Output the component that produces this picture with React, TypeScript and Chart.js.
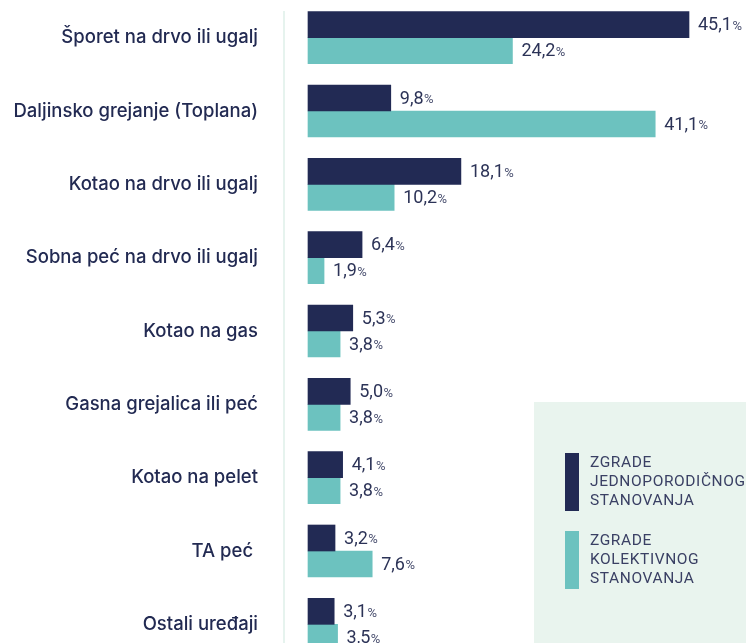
import React, { useEffect, useRef } from "react";
import { Chart, registerables } from "chart.js";

Chart.register(...registerables);

const categories = [
  "Šporet na drvo ili ugalj",
  "Daljinsko grejanje (Toplana)",
  "Kotao na drvo ili ugalj",
  "Sobna peć na drvo ili ugalj",
  "Kotao na gas",
  "Gasna grejalica ili peć",
  "Kotao na pelet",
  "TA peć ",
  "Ostali uređaji",
];

const singleFamily = [45.1, 9.8, 18.1, 6.4, 5.3, 5.0, 4.1, 3.2, 3.1];
const multiFamily = [24.2, 41.1, 10.2, 1.9, 3.8, 3.8, 3.8, 7.6, 3.5];

const seriesNames = [
  ["ZGRADE", "JEDNOPORODIČNOG", "STANOVANJA"],
  ["ZGRADE", "KOLEKTIVNOG", "STANOVANJA"],
];

const DARK = "#222a54";
const TEAL = "#6cc2bf";
const TEXT = "#222a52";

const fmt = (v: number) => v.toFixed(1).replace(".", ",");

const valueLabels = {
  id: "valueLabels",
  afterDatasetsDraw(chart: any) {
    const ctx = chart.ctx;
    ctx.save();
    ctx.textBaseline = "middle";
    ctx.textAlign = "left";
    chart.data.datasets.forEach((ds: any, di: number) => {
      const meta = chart.getDatasetMeta(di);
      meta.data.forEach((bar: any, i: number) => {
        const txt = fmt(ds.data[i]);
        const x = bar.x + 9;
        const y = bar.y + 1;
        ctx.font = "18px 'Roboto'";
        ctx.fillStyle = "#2c3357";
        ctx.fillText(txt, x, y);
        const w = ctx.measureText(txt).width;
        ctx.font = "13px 'Roboto'";
        ctx.fillStyle = "#4a5070";
        ctx.fillText("%", x + w + 0.5, y + 1);
      });
    });
    ctx.restore();
  },
};

const decor = {
  id: "decor",
  beforeDatasetsDraw(chart: any) {
    const ctx = chart.ctx;
    ctx.save();
    ctx.fillStyle = "#e6f3ee";
    ctx.fillRect(chart.chartArea.left - 1, 11, 2, chart.height - 11);
    ctx.restore();
  },
  afterDraw(chart: any) {
    const ctx = chart.ctx;
    ctx.save();
    ctx.fillStyle = "#e9f4ee";
    ctx.fillRect(534, 402, chart.width - 534, chart.height - 402);
    const colors = [DARK, TEAL];
    const tops = [453, 531];
    ctx.textBaseline = "middle";
    ctx.textAlign = "left";
    ctx.font = "15.5px 'Roboto'";
    try {
      (ctx as any).letterSpacing = "0.6px";
    } catch (e) {}
    seriesNames.forEach((lines, k) => {
      ctx.fillStyle = colors[k];
      ctx.fillRect(565, tops[k], 14, 58);
      ctx.fillStyle = "#3a4064";
      lines.forEach((ln, j) => {
        ctx.fillText(ln, 590, tops[k] + 10 + j * 19);
      });
    });
    ctx.restore();
  },
};

export default function App() {
  const ref = useRef<HTMLCanvasElement | null>(null);
  useEffect(() => {
    if (!ref.current) return;
    const chart = new Chart(ref.current, {
      type: "bar",
      data: {
        labels: categories,
        datasets: [
          { label: seriesNames[0].join(" "), data: singleFamily, backgroundColor: DARK, barThickness: 26 },
          { label: seriesNames[1].join(" "), data: multiFamily, backgroundColor: TEAL, barThickness: 26 },
        ],
      },
      options: {
        indexAxis: "y",
        animation: false,
        responsive: true,
        maintainAspectRatio: false,
        layout: { padding: { top: 1, right: 0, bottom: 0, left: 0 } },
        plugins: { legend: { display: false }, tooltip: { enabled: false } },
        scales: {
          x: { display: false, min: -2.841, max: 51.847 },
          y: {
            grid: { display: false, drawTicks: false },
            border: { display: false },
            afterFit(scale: any) {
              scale.width = 284;
              scale.paddingTop = 0;
              scale.paddingBottom = 0;
            },
            ticks: {
              padding: 26,
              color: TEXT,
              font: { family: "Inter", size: 18.5, weight: 500 },
            },
          },
        },
      },
      plugins: [decor, valueLabels],
    });
    return () => chart.destroy();
  }, []);
  return (
    <div style={{ position: "fixed", left: 0, top: 0, width: 746, height: 643, overflow: "hidden", background: "#fff" }}>
      <div style={{ position: "relative", width: 746, height: 661 }}>
        <canvas ref={ref} />
      </div>
    </div>
  );
}
